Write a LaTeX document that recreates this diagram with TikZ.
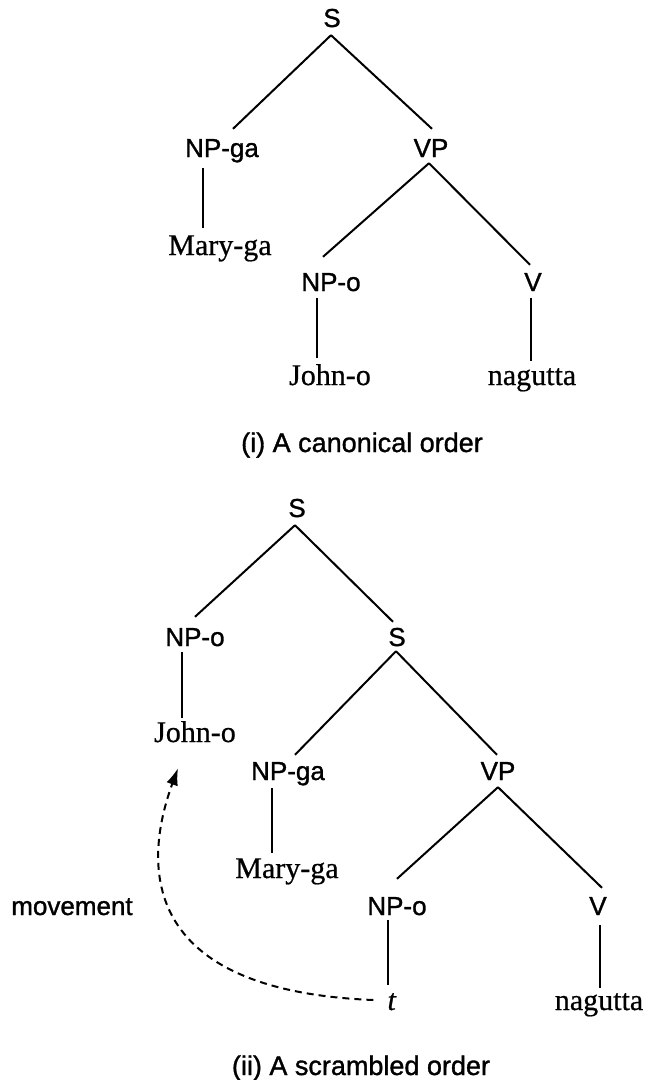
\documentclass[tikz,border=0pt]{standalone}
\usepackage{fontspec}
\setmainfont{Liberation Serif}[FakeBold=0.6]
\newfontfamily\labfont{Liberation Sans}[FakeBold=1.2]
\usetikzlibrary{arrows.meta}
\tikzset{
  cat/.style={font=\labfont\fontsize{26}{30}\selectfont, inner sep=0pt, anchor=base, text height=17pt, text depth=0pt},
  word/.style={font=\fontsize{30}{36}\selectfont, inner sep=0pt, anchor=base, text height=20pt, text depth=0pt},
  caption/.style={font=\labfont\fontsize{27}{30}\selectfont, inner sep=0pt, anchor=base},
  branch/.style={line width=2pt},
  move/.style={line width=2pt, dash pattern=on 7pt off 5pt, -{Latex[length=17pt,width=12pt]}}
}
\begin{document}
\begin{tikzpicture}[x=1pt,y=-1pt]
\useasboundingbox (0,0) rectangle (648,1080);
% ---------- (i) canonical order ----------
\node[cat]  (S)      at (332,27)  {S};
\node[cat]  (NPga)   at (222,157) {NP-ga};
\node[cat]  (VP)     at (431,157) {VP};
\node[word] (Maryga) at (220,255) {Mary-ga};
\node[cat]  (NPo)    at (331,291) {NP-o};
\node[cat]  (V)      at (533,291) {V};
\node[word] (Johno)  at (330,385) {John-o};
\node[word] (nag)    at (532,385) {nagutta};
\node[caption] (capA) at (362,452) {(i) A canonical order};

\draw[branch] ([xshift=-1pt,yshift=-8pt]S.south) -- ([xshift=11pt,yshift=11pt]NPga.north);
\draw[branch] ([xshift=-1pt,yshift=-8pt]S.south) -- ([xshift=1pt,yshift=11pt]VP.north);
\draw[branch] ([xshift=-19pt,yshift=-11pt]NPga.south) -- ([xshift=-17pt,yshift=7pt]Maryga.north);
\draw[branch] ([xshift=-2pt,yshift=-6pt]VP.south) -- ([xshift=-8pt,yshift=17pt]NPo.north);
\draw[branch] ([xshift=-2pt,yshift=-6pt]VP.south) -- ([xshift=-3pt,yshift=9pt]V.north);
\draw[branch] ([xshift=-14pt,yshift=-7pt]NPo.south) -- ([xshift=-13pt,yshift=7pt]Johno.north);
\draw[branch] ([xshift=-2pt,yshift=-7pt]V.south) -- ([xshift=-1pt,yshift=4pt]nag.north);

% ---------- (ii) scrambled order ----------
\node[cat]  (S1)      at (297,517)  {S};
\node[cat]  (NPo1)    at (195,646)  {NP-o};
\node[cat]  (S2)      at (397,646)  {S};
\node[word] (Johno1)  at (195,742)  {John-o};
\node[cat]  (NPga2)   at (288,780)  {NP-ga};
\node[cat]  (VP2)     at (498,780)  {VP};
\node[word] (Maryga2) at (287,878)  {Mary-ga};
\node[cat]  (NPo2)    at (397,915)  {NP-o};
\node[cat]  (V2)      at (598,915)  {V};
\node[cat]  (mv)      at (72,915)   {movement};
\node[word] (t)       at (392,1010) {\textit{t}};
\node[word] (nag2)    at (599,1010) {nagutta};
\node[caption] (capB) at (361,1075) {(ii) A scrambled order};

\draw[branch] ([xshift=-2pt,yshift=-8pt]S1.south) -- ([yshift=12pt]NPo1.north);
\draw[branch] ([xshift=-2pt,yshift=-8pt]S1.south) -- ([xshift=-4pt,yshift=7pt]S2.north);
\draw[branch] ([xshift=-13pt,yshift=-6pt]NPo1.south) -- ([xshift=-13pt,yshift=4pt]Johno1.north);
\draw[branch] ([xshift=-1pt,yshift=-5pt]S2.south) -- ([xshift=7pt,yshift=8pt]NPga2.north);
\draw[branch] ([xshift=-1pt,yshift=-5pt]S2.south) -- ([xshift=-1pt,yshift=8pt]VP2.north);
\draw[branch] ([xshift=-16pt,yshift=-8pt]NPga2.south) -- ([xshift=-15pt,yshift=5pt]Maryga2.north);
\draw[branch] ([yshift=-7pt]VP2.south) -- ([yshift=19pt]NPo2.north);
\draw[branch] ([yshift=-7pt]VP2.south) -- ([xshift=4pt,yshift=10pt]V2.north);
\draw[branch] ([xshift=-9pt,yshift=-5pt]NPo2.south) -- ([xshift=-4pt,yshift=5pt]t.north);
\draw[branch] ([xshift=2pt,yshift=-10pt]V2.south) -- ([xshift=1pt,yshift=2pt]nag2.north);

\draw[move] ([xshift=-14pt]t.west) .. controls (125,990) and (148,850) .. ([xshift=-17pt,yshift=-26pt]Johno1.south);
\end{tikzpicture}
\end{document}
